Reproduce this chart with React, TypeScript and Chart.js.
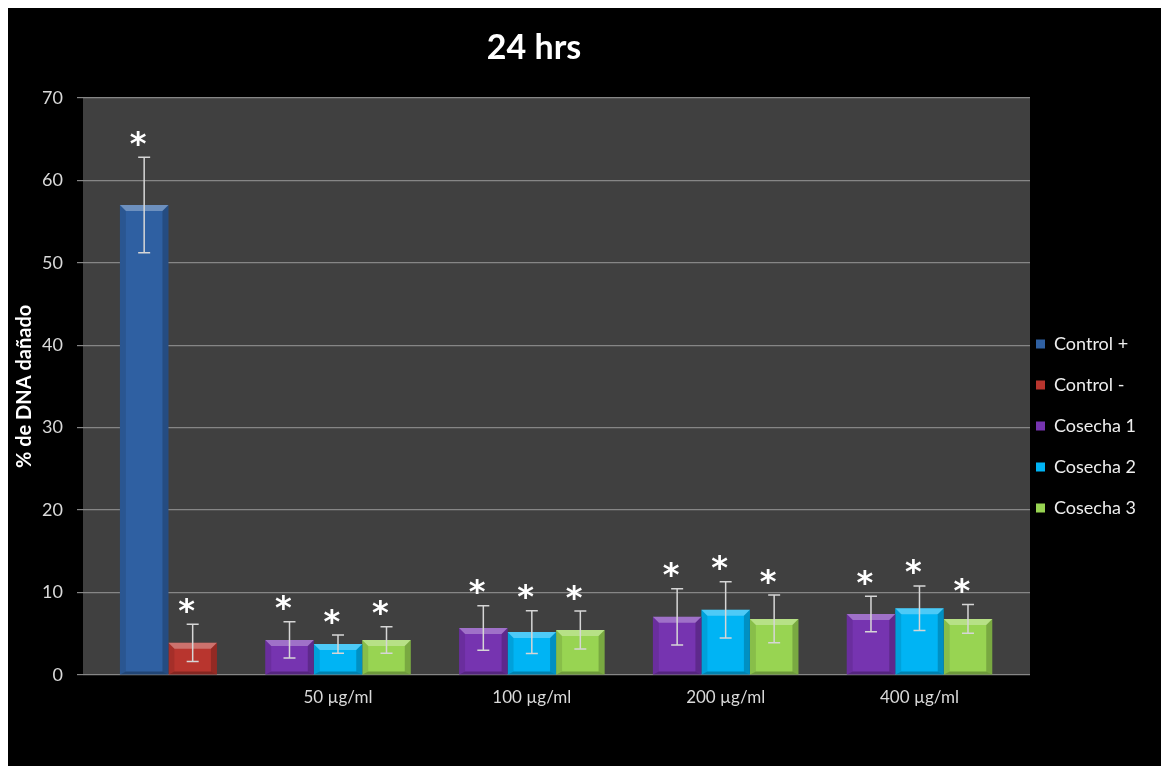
import { useEffect, useRef } from 'react';
import { Chart, registerables } from 'chart.js';

Chart.register(...registerables);

// ---------- data ----------
const groupLabels = ['', '50 µg/ml', '100 µg/ml', '200 µg/ml', '400 µg/ml'];
const seriesNames = ['Control +', 'Control -', 'Cosecha 1', 'Cosecha 2', 'Cosecha 3'];

const controlPlus = [57.0, null, null, null, null];
const controlMinus = [3.9, null, null, null, null];
const cosecha1 = [null, 4.25, 5.7, 7.05, 7.4];
const cosecha2 = [null, 3.75, 5.2, 7.9, 8.1];
const cosecha3 = [null, 4.25, 5.45, 6.8, 6.8];

const controlPlusErr = [5.8, null, null, null, null];
const controlMinusErr = [2.25, null, null, null, null];
const cosecha1Err = [null, 2.2, 2.7, 3.4, 2.15];
const cosecha2Err = [null, 1.1, 2.6, 3.4, 2.7];
const cosecha3Err = [null, 1.6, 2.3, 2.9, 1.75];

const yTickValues = [0, 10, 20, 30, 40, 50, 60, 70];
const significanceMark = '*';

// ---------- style ----------
const seriesValues = [controlPlus, controlMinus, cosecha1, cosecha2, cosecha3];
const seriesErrors = [controlPlusErr, controlMinusErr, cosecha1Err, cosecha2Err, cosecha3Err];
const seriesColors = ['#2f60a2', '#b8352e', '#7634b0', '#00b4f4', '#98d452'];
const seriesSlot = ['b', 'c', 'a', 'b', 'c'];
const seriesOrder = [1, 1, 0, 1, 1];

const FONT = 'Lato, "Open Sans", sans-serif';
const LEGEND_GAP = 6;
const LEGEND_TEXT_CENTER = 336;

function drawBevel(ctx: CanvasRenderingContext2D, left: number, right: number, top: number, bottom: number) {
  const h = bottom - top;
  const w = right - left;
  if (h <= 0 || w <= 0) return;
  const b = Math.min(6, h / 2, w / 4);
  const bb = Math.min(3, h / 3);
  ctx.fillStyle = 'rgba(255,255,255,0.30)';
  ctx.beginPath();
  ctx.moveTo(left, top); ctx.lineTo(right, top); ctx.lineTo(right - b, top + b); ctx.lineTo(left + b, top + b);
  ctx.closePath(); ctx.fill();
  ctx.fillStyle = 'rgba(0,0,0,0.10)';
  ctx.beginPath();
  ctx.moveTo(left, top); ctx.lineTo(left + b, top + b); ctx.lineTo(left + b, bottom - bb); ctx.lineTo(left, bottom);
  ctx.closePath(); ctx.fill();
  ctx.fillStyle = 'rgba(0,0,0,0.20)';
  ctx.beginPath();
  ctx.moveTo(right, top); ctx.lineTo(right - b, top + b); ctx.lineTo(right - b, bottom - bb); ctx.lineTo(right, bottom);
  ctx.closePath(); ctx.fill();
  ctx.fillStyle = 'rgba(0,0,0,0.28)';
  ctx.beginPath();
  ctx.moveTo(left, bottom); ctx.lineTo(left + b, bottom - bb); ctx.lineTo(right - b, bottom - bb); ctx.lineTo(right, bottom);
  ctx.closePath(); ctx.fill();
}

const chartBackground = {
  id: 'chartBackground',
  beforeDraw(chart: any) {
    const { ctx, width, height, chartArea: a } = chart;
    ctx.save();
    ctx.fillStyle = '#000000';
    ctx.fillRect(0, 0, width, height);
    ctx.fillStyle = '#404040';
    ctx.fillRect(a.left, a.top, a.right - a.left, a.bottom - a.top);
    ctx.restore();
  },
};

const legendPlacement = {
  id: 'legendPlacement',
  afterLayout(chart: any) {
    const lg = chart.legend;
    if (!lg) return;
    const pad = lg.options.labels.padding;
    const fs = lg.options.labels.font.size;
    lg.left = chart.chartArea.right + LEGEND_GAP - pad;
    lg.right = chart.width;
    lg.width = lg.right - lg.left;
    const h = lg.bottom - lg.top;
    lg.top = LEGEND_TEXT_CENTER - fs / 2 - pad;
    lg.bottom = lg.top + h;
    lg.height = h;
  },
};

const barDecorations = {
  id: 'barDecorations',
  afterDatasetsDraw(chart: any) {
    const { ctx } = chart;
    const yScale = chart.scales.y;
    ctx.save();
    const bars: { x: number; top: number; bot: number }[] = [];
    chart.data.datasets.forEach((_ds: any, di: number) => {
      const meta = chart.getDatasetMeta(di);
      meta.data.forEach((el: any, i: number) => {
        const v = seriesValues[di][i];
        if (v == null) return;
        const { x, y, base, width } = el.getProps(['x', 'y', 'base', 'width'], true);
        drawBevel(ctx, x - width / 2, x + width / 2, y, base);
        const e = seriesErrors[di][i];
        if (e != null) {
          bars.push({ x, top: yScale.getPixelForValue(v + e), bot: yScale.getPixelForValue(v - e) });
        }
      });
    });
    // error bars
    ctx.strokeStyle = '#d6d6d6';
    ctx.lineWidth = 1.5;
    bars.forEach(({ x, top, bot }) => {
      ctx.beginPath();
      ctx.moveTo(x, top); ctx.lineTo(x, bot);
      ctx.moveTo(x - 6, top); ctx.lineTo(x + 6, top);
      ctx.moveTo(x - 6, bot); ctx.lineTo(x + 6, bot);
      ctx.stroke();
    });
    // significance marks
    ctx.fillStyle = '#ffffff';
    ctx.font = 'bold 32px "DejaVu Sans"';
    ctx.textAlign = 'left';
    ctx.textBaseline = 'alphabetic';
    const m = ctx.measureText(significanceMark);
    const asc = m.actualBoundingBoxAscent;
    const desc = m.actualBoundingBoxDescent;
    const bl = m.actualBoundingBoxLeft;
    const br = m.actualBoundingBoxRight;
    bars.forEach(({ x, top }) => {
      const cx = x - 6;
      const cy = top - 19;
      ctx.fillText(significanceMark, cx - (br - bl) / 2, cy + (asc - desc) / 2);
    });
    ctx.restore();
  },
};

export default function App() {
  const ref = useRef<HTMLCanvasElement>(null);

  useEffect(() => {
    const canvas = ref.current;
    if (!canvas) return;
    Chart.defaults.font.family = FONT;

    const datasets = seriesNames.map((name, di) => ({
      label: name,
      data: seriesValues[di].map((v, i) => ({ x: i, y: v })),
      backgroundColor: seriesColors[di],
      borderWidth: 0,
      stack: seriesSlot[di],
      order: seriesOrder[di],
      categoryPercentage: 0.7507,
      barPercentage: 1.0,
    }));

    const chart = new Chart(canvas, {
      type: 'bar',
      data: { datasets: datasets as any },
      plugins: [chartBackground, legendPlacement, barDecorations],
      options: {
        animation: false,
        responsive: false,
        devicePixelRatio: 1,
        events: [],
        layout: { padding: { left: 0, right: 101, top: 0, bottom: 0 } },
        scales: {
          x: {
            type: 'linear',
            min: -0.3156,
            max: 4.5702,
            offset: false,
            bounds: 'data',
            afterBuildTicks: (scale: any) => {
              scale.ticks = groupLabels.map((_l, i) => ({ value: i }));
            },
            afterFit: (scale: any) => { scale.height = 91; },
            grid: { display: false, drawTicks: false },
            border: { display: false },
            ticks: {
              autoSkip: false,
              maxRotation: 0,
              minRotation: 0,
              padding: 12,
              color: '#d9d9d9',
              font: { size: 17, family: FONT },
              callback: (v: any) => groupLabels[Math.round(Number(v))] ?? '',
            },
          },
          y: {
            type: 'linear',
            min: 0,
            max: 70,
            stacked: false,
            afterBuildTicks: (scale: any) => {
              scale.ticks = yTickValues.map((v) => ({ value: v }));
            },
            afterFit: (scale: any) => { scale.width = 75; },
            grid: { color: '#868686', lineWidth: 1.2, tickLength: 6, drawTicks: true, tickColor: '#868686' },
            border: { display: false },
            ticks: {
              padding: 14,
              color: '#d9d9d9',
              font: { size: 18, family: FONT },
            },
            title: {
              display: true,
              text: '% de DNA dañado',
              color: '#ffffff',
              font: { size: 20, weight: 'bold', family: FONT },
              padding: { top: 5, bottom: 0 },
            },
          },
        },
        plugins: {
          title: {
            display: true,
            text: '24 hrs',
            color: '#ffffff',
            font: { size: 34, weight: 'bold', family: FONT },
            padding: { top: 20, bottom: 29 },
          },
          legend: {
            display: true,
            position: 'right',
            align: 'start',
            maxWidth: 30,
            labels: {
              boxWidth: 9,
              boxHeight: 9,
              padding: 23,
              color: '#eeeeee',
              font: { size: 18, family: FONT },
              sort: (a: any, b: any) => a.datasetIndex - b.datasetIndex,
            },
          },
          tooltip: { enabled: false },
        },
      } as any,
    });

    return () => chart.destroy();
  }, []);

  return (
    <div style={{ position: 'fixed', left: 8, top: 8, width: 1153, height: 758, background: '#000' }}>
      <canvas ref={ref} width={1153} height={758} style={{ display: 'block', width: 1153, height: 758 }} />
    </div>
  );
}
